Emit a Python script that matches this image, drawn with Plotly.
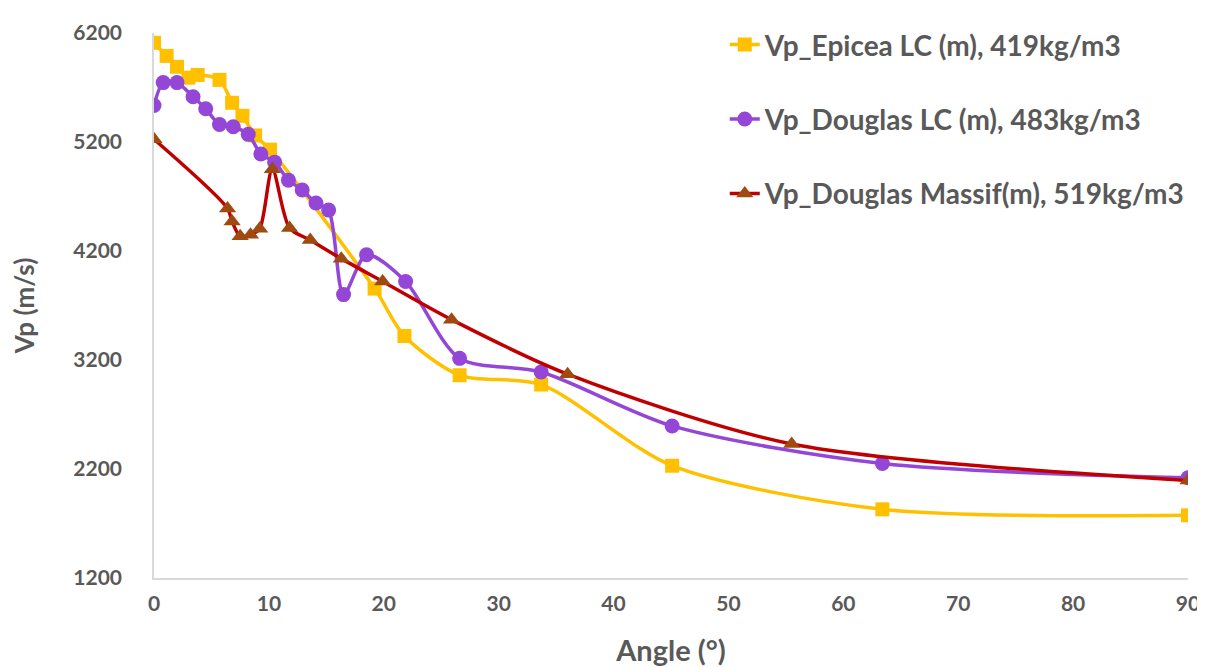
import plotly.graph_objects as go

# Data
epicea_x = [0, 1.1, 2.0, 3.0, 3.8, 5.7, 6.8, 7.7, 8.8, 10.1, 19.2, 21.8, 26.6, 33.7, 45.1, 63.4, 90]
epicea_y = [6110, 5990, 5890, 5790, 5815, 5770, 5560, 5440, 5260, 5130, 3855, 3420, 3060, 2975, 2230, 1830, 1775]

douglas_lc_x = [0, 0.8, 2.0, 3.4, 4.5, 5.7, 6.9, 8.2, 9.3, 10.5, 11.7, 12.9, 14.1, 15.2, 16.5, 18.5, 21.9, 26.6, 33.7, 45.1, 63.4, 90]
douglas_lc_y = [5535, 5745, 5745, 5615, 5505, 5360, 5340, 5270, 5090, 5015, 4850, 4760, 4640, 4575, 3800, 4165, 3920, 3215, 3090, 2595, 2250, 2120]

douglas_m_x = [0, 6.4, 6.8, 7.5, 8.4, 9.2, 10.3, 11.8, 13.6, 16.3, 19.9, 25.9, 36.0, 55.5, 90]
douglas_m_y = [5225, 4590, 4470, 4335, 4350, 4405, 4950, 4410, 4300, 4130, 3920, 3570, 3070, 2430, 2095]

names = ["Vp_Epicea LC (m), 419kg/m3", "Vp_Douglas LC (m), 483kg/m3", "Vp_Douglas Massif(m), 519kg/m3"]

FONT = "Lato"
GREY = "#595959"

fig = go.Figure()
fig.add_trace(go.Scatter(
    x=epicea_x, y=epicea_y, name=names[0], mode="lines+markers", legendgroup="a",
    line=dict(color="#FFC000", width=3.5, shape="spline", smoothing=0.8),
    marker=dict(symbol="square", size=14, color="#FFC000")))
fig.add_trace(go.Scatter(
    x=douglas_lc_x, y=douglas_lc_y, name=names[1], mode="lines+markers", legendgroup="b",
    line=dict(color="#9446D6", width=3.5, shape="spline", smoothing=0.8),
    marker=dict(symbol="circle", size=15, color="#9446D6")))
fig.add_trace(go.Scatter(
    x=douglas_m_x, y=douglas_m_y, name=names[2], mode="lines+markers", legendgroup="c",
    line=dict(color="#C00000", width=3.5, shape="spline", smoothing=0.8),
    marker=dict(symbol="triangle-up", size=15, color="#9E4A10")))

fig.update_layout(
    width=1197, height=659,
    margin=dict(l=146, r=17, t=22, b=89),
    paper_bgcolor="white", plot_bgcolor="white",
    font=dict(family=FONT, color=GREY),
    showlegend=True,
    legend=dict(x=0.552, y=1.024, xanchor="left", yanchor="top",
                font=dict(size=28, color=GREY, family=FONT, weight="bold"),
                tracegroupgap=35, bgcolor="rgba(0,0,0,0)", itemwidth=30),
    xaxis=dict(range=[0, 90], tickmode="linear", tick0=0, dtick=10, automargin=False,
               showgrid=False, zeroline=False, showline=True, linecolor="#D9D9D9", linewidth=1.5,
               ticks="", ticklabelstandoff=6,
               tickfont=dict(size=21, color=GREY, family=FONT, weight="bold"),
               title=dict(text="Angle (°)", font=dict(size=29, color=GREY, family=FONT, weight="bold"), standoff=29)),
    yaxis=dict(range=[1200, 6200], tickmode="linear", tick0=1200, dtick=1000, automargin=False,
               showgrid=False, zeroline=False, showline=True, linecolor="#D9D9D9", linewidth=1.5,
               ticks="", ticklabelstandoff=26,
               tickfont=dict(size=21, color=GREY, family=FONT, weight="bold"),
               title=dict(text="Vp (m/s)", font=dict(size=26, color=GREY, family=FONT, weight="bold"), standoff=40)),
)

fig.write_html("out.html")
